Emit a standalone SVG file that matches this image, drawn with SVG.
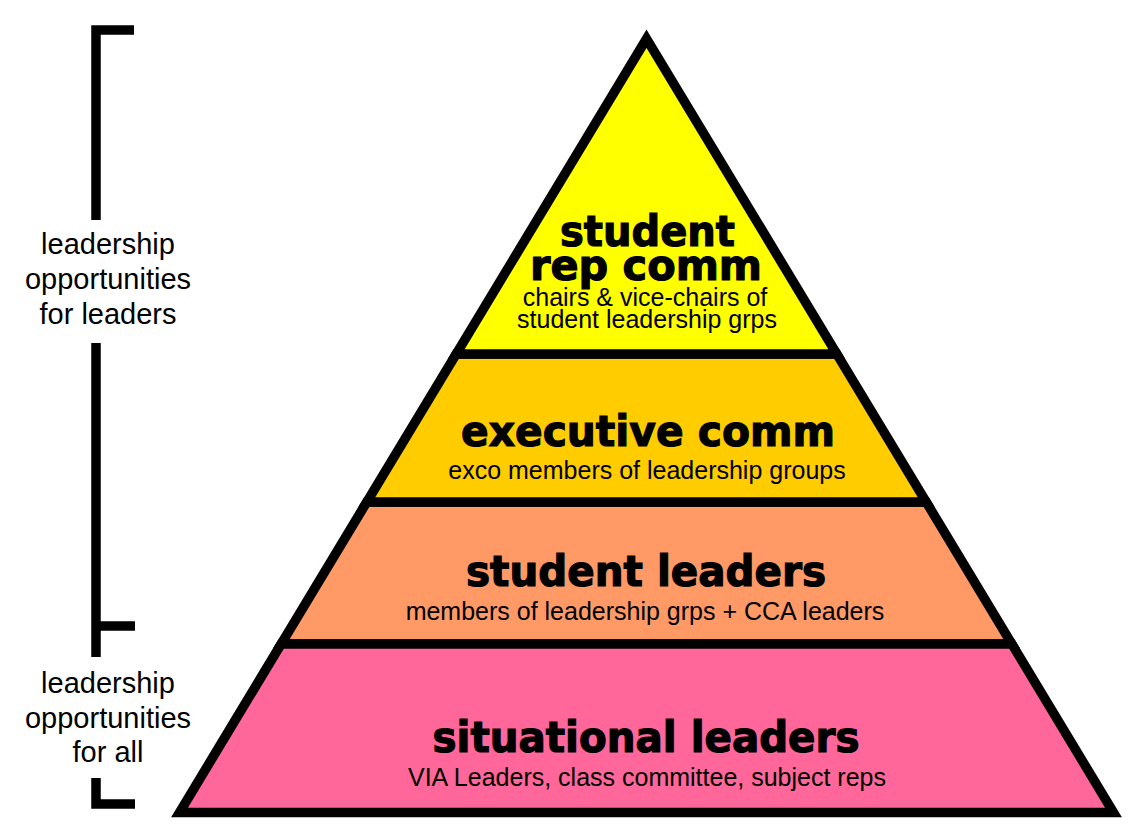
<svg xmlns="http://www.w3.org/2000/svg" width="1142" height="839" viewBox="0 0 1142 839">
<style>
.band{stroke:#000;stroke-width:9.5;stroke-linejoin:miter;stroke-miterlimit:10}
.title{font-family:"DejaVu Sans","Liberation Sans",sans-serif;font-weight:bold;font-size:42px;fill:#000;stroke:#000;stroke-width:1.2;text-anchor:middle}
.sub{font-family:"Liberation Sans",Arial,sans-serif;font-size:25px;fill:#000;text-anchor:middle}
.side{font-family:"Liberation Sans",Arial,sans-serif;font-size:29px;fill:#000;text-anchor:middle}
.br{stroke:#000;stroke-width:9.5;fill:none;stroke-linecap:butt;stroke-linejoin:miter}
</style>
<rect width="1142" height="839" fill="#fff"/>
<g id="level-situational">
<polygon class="band" fill="#FF6699" points="281.3,643.7 1011.7,643.7 1113.5,812.5 179.5,812.5"/>
<text class="title" x="646" y="752" textLength="427" lengthAdjust="spacingAndGlyphs">situational leaders</text>
<text class="sub" x="647" y="786">VIA Leaders, class committee, subject reps</text>
</g>
<g id="level-student-leaders">
<polygon class="band" fill="#FF9966" points="366.8,502 926.2,502 1011.7,643.7 281.3,643.7"/>
<text class="title" x="646" y="586" textLength="360" lengthAdjust="spacingAndGlyphs">student leaders</text>
<text class="sub" x="645" y="620">members of leadership grps + CCA leaders</text>
</g>
<g id="level-executive">
<polygon class="band" fill="#FFCC00" points="456.2,354 836.8,354 926.2,502 366.8,502"/>
<text class="title" x="648" y="446" textLength="374" lengthAdjust="spacingAndGlyphs">executive comm</text>
<text class="sub" x="647" y="479">exco members of leadership groups</text>
</g>
<g id="level-student-rep">
<polygon class="band" fill="#FFFF00" points="646.5,38.7 836.8,354 456.2,354"/>
<text class="title" x="647.5" y="246" textLength="175" lengthAdjust="spacingAndGlyphs">student</text>
<text class="title" x="646" y="280" textLength="232" lengthAdjust="spacingAndGlyphs">rep comm</text>
<text class="sub" x="645" y="306">chairs &amp; vice-chairs of</text>
<text class="sub" x="647" y="328">student leadership grps</text>
</g>
<g id="connectors">
<path class="br" d="M134,30 H96 V220"/>
<path class="br" d="M96,343 V657 M96,626 H135"/>
<path class="br" d="M96,778 V804 H135"/>
</g>
<g id="label-leaders">
<text class="side" x="108" y="254">leadership</text>
<text class="side" x="108" y="289">opportunities</text>
<text class="side" x="108" y="324">for leaders</text>
</g>
<g id="label-all">
<text class="side" x="108" y="693">leadership</text>
<text class="side" x="108" y="728">opportunities</text>
<text class="side" x="108" y="762">for all</text>
</g>
</svg>
